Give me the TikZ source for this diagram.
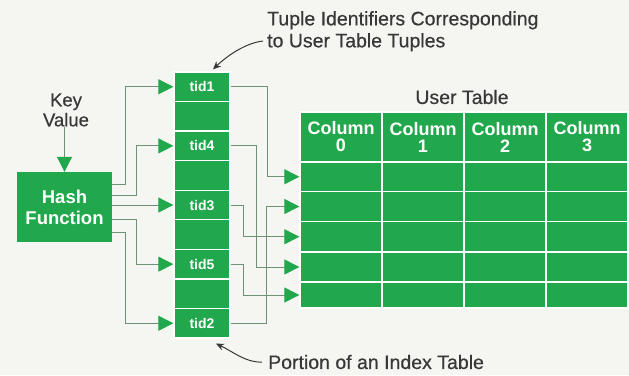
\documentclass[tikz,border=0pt]{standalone}
\usepackage{fontspec}
\setmainfont{Liberation Sans}
\newfontfamily\medfont[FakeBold=0.5]{Liberation Sans}
\usetikzlibrary{arrows.meta,calc}
\definecolor{grn}{HTML}{22A84C}
\definecolor{bg}{HTML}{F5F6F2}
\definecolor{ink}{HTML}{383838}
\definecolor{wire}{HTML}{6E9275}
\begin{document}
\begin{tikzpicture}[x=1pt,y=-1pt,
  cell/.style={draw=white,line width=1.3pt,fill=grn,minimum width=56pt,minimum height=29.56pt,inner sep=0pt,text=white,font=\fontsize{14}{16}\selectfont\bfseries},
  hcell/.style={draw=white,line width=1.3pt,fill=grn,minimum width=82pt,minimum height=50pt,inner sep=0pt,text=white,align=center,font=\fontsize{18}{17}\selectfont\bfseries},
  tcell/.style={draw=white,line width=1.3pt,fill=grn,minimum width=82pt,inner sep=0pt},
  hashbox/.style={fill=grn,minimum width=95pt,minimum height=70pt,inner sep=0pt,text=white,align=center,font=\fontsize{18.5}{21}\selectfont\bfseries},
  lbl/.style={text=ink,inner sep=0pt,font=\medfont\fontsize{19.5}{22}\selectfont},
  conn/.style={draw=wire,line width=1pt,-{Triangle[length=15pt,width=15pt,color=grn]}},
  callout/.style={draw=ink,line width=1pt,-{Stealth[length=8pt,width=7pt]}}
]
\useasboundingbox[fill=bg] (0,0) rectangle (629,375);

% Key value and hash function
\node[lbl,align=center,font=\medfont\fontsize{18.5}{20}\selectfont] (key) at (66,110) {Key\\Value};
\node[hashbox] (hash) at (64.5,207) {Hash\\Function};
\draw[conn] (key.south -| hash.north) -- (hash.north);

% index table
\foreach \i/\t in {0/tid1,1/,2/tid4,3/,4/tid3,5/,6/tid5,7/,8/tid2}
  \node[cell] (idx\i) at (202,{72+29.56*(\i+0.5)}) {\t};

% user table
\foreach \j in {0,1,2,3}
  \node[hcell] (h\j) at ({300+82*(\j+0.5)},137) {Column\\\j};
\foreach \i/\yc/\hh in {0/176.75/29.5,1/206.5/30,2/236.75/30.5,3/267/30,4/295/26}
  \foreach \j in {0,1,2,3}
    \node[tcell,minimum height=\hh pt] (r\i-\j) at ({300+82*(\j+0.5)},\yc) {};
\node[lbl] (ut) at (462,97) {User Table};

% hash to index
\draw[conn] ([yshift=23pt]hash.east) -- ++(13,0) |- (idx0.west);
\draw[conn] ([yshift=12pt]hash.east) -- ++(24,0) |- (idx2.west);
\draw[conn] (hash.east |- idx4.west) -- (idx4.west);
\draw[conn] ([yshift=-12pt]hash.east) -- ++(24,0) |- (idx6.west);
\draw[conn] ([yshift=-25pt]hash.east) -- ++(13,0) |- (idx8.west);

% index to user table
\draw[conn] (idx0.east) -- ++(37,0) |- (r0-0.west);
\draw[conn] (idx2.east) -- ++(26,0) |- (r3-0.west);
\draw[conn] (idx4.east) -- ++(13,0) |- (r2-0.west);
\draw[conn] (idx6.east) -- ++(13,0) |- (r4-0.west);
\draw[conn] (idx8.east) -- ++(36,0) |- (r1-0.west);

% callouts
\node[lbl,anchor=north west,align=left] (tl) at (267,11) {Tuple Identifiers Corresponding\\to User Table Tuples};
\coordinate (ttail) at (263,41);
\draw[callout] (ttail) .. controls (246,43) and (228,55) .. ([shift={(11,-2)}]idx0.north);
\node[lbl,anchor=west] (bl) at (268,362) {Portion of an Index Table};
\coordinate (btail) at (262,362);
\draw[callout] (btail) .. controls (246,363) and (232,351) .. ([shift={(14,5)}]idx8.south);
\end{tikzpicture}
\end{document}
